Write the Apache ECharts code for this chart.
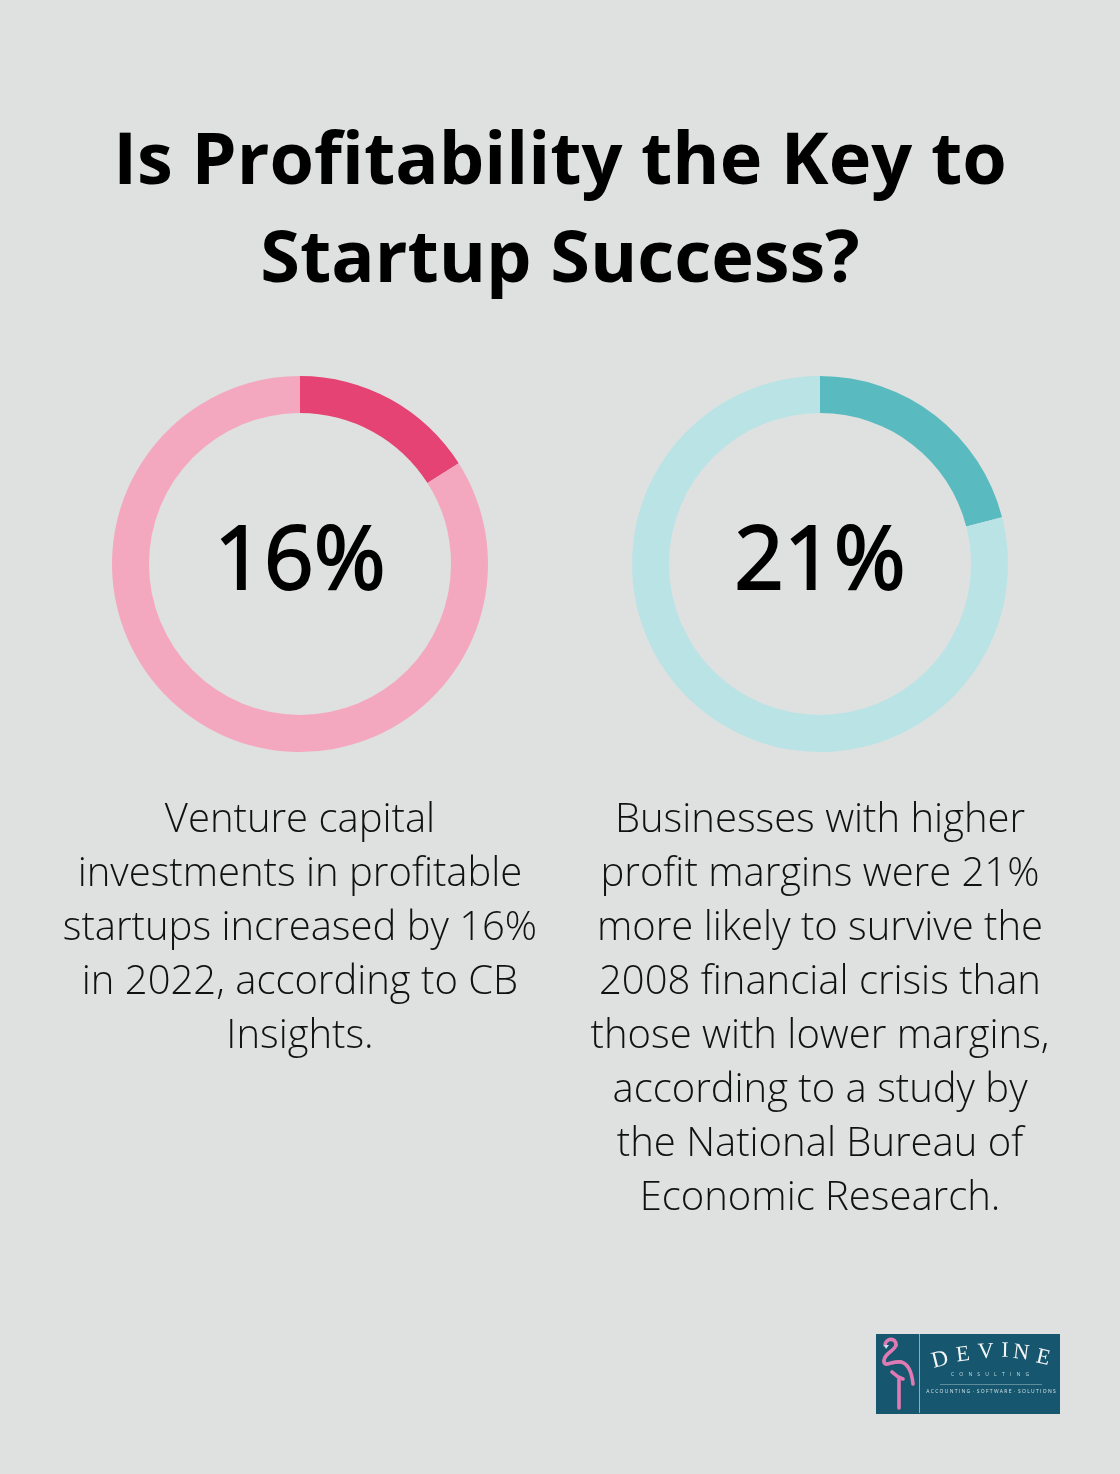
<!DOCTYPE html>
<html><head><meta charset="utf-8">
<style>html,body{margin:0;padding:0;background:#dfe1e0}#c{width:1120px;height:1474px}</style>
<script src="https://cdn.jsdelivr.net/npm/echarts@6/dist/echarts.min.js"></script>
</head><body><div id="c"></div>
<script>
const titleLines = ["Is Profitability the Key to", "Startup Success?"];
const percents = [16, 21];
const leftLines = ["Venture capital", "investments in profitable", "startups increased by 16%", "in 2022, according to CB", "Insights."];
const rightLines = ["Businesses with higher", "profit margins were 21%", "more likely to survive the", "2008 financial crisis than", "those with lower margins,", "according to a study by", "the National Bureau of", "Economic Research."];
const ringColors = [["#e64375", "#f4a8c0"], ["#59bbc0", "#b9e3e5"]];
const centersX = [300, 820];
const FF = '"Open Sans"';
const chart = echarts.init(document.getElementById('c'), null, {renderer:'canvas'});
const txt = (s,x,y,size,weight,color) => ({type:'text',x,y,silent:true,style:{text:s,x:0,y:0,align:'center',verticalAlign:'middle',font:`${weight} ${size}px ${FF}`,fill:color||'#000'}});
const graphics = [];
titleLines.forEach((s,i)=>graphics.push(txt(s,560,163+i*98,72,700)));
leftLines.forEach((s,i)=>graphics.push(txt(s,300,821+i*54,40,300,'#111')));
rightLines.forEach((s,i)=>graphics.push(txt(s,820,821+i*54,40,300,'#111')));
percents.forEach((p,i)=>{const t=txt(p+'%',centersX[i],564,87,400);t.style.stroke='#000';t.style.lineWidth=2;graphics.push(t);});
// logo
const LX=876, LY=1334;
graphics.push({type:'rect',silent:true,shape:{x:LX,y:LY,width:184,height:80},style:{fill:'#16566e'}});
graphics.push({type:'line',silent:true,shape:{x1:LX+43.5,y1:LY,x2:LX+43.5,y2:LY+79},style:{stroke:'#a9c6cf',lineWidth:0.8}});
const logoStroke={stroke:'#e07ab4',lineWidth:3.6,fill:null,lineCap:'round'};
const curve=(a,b,c,d,e,f,g,h)=>graphics.push({type:'bezierCurve',silent:true,shape:{x1:LX+a,y1:LY+b,cpx1:LX+c,cpy1:LY+d,cpx2:LX+e,cpy2:LY+f,x2:LX+g,y2:LY+h},style:logoStroke});
curve(9,11,10,4,20,3,20,11);
curve(20,11,19,17,8,19,8,27);
curve(8,27,8,34,15,27,25,28);
curve(25,28,33,30,36,40,37,50);
curve(16,38,20,42,24,44,27,45);
graphics.push({type:'line',silent:true,shape:{x1:LX+23,y1:LY+44,x2:LX+23,y2:LY+74},style:logoStroke});
graphics.push({type:'polygon',silent:true,shape:{points:[[LX+8,LY+11],[LX+13,LY+11],[LX+10,LY+15]]},style:{fill:'#bfe3ea'}});
const brand=[['D',64,26,-14,23],['E',87,21,-7,22],['V',110,18,-3,22],['I',129,17,1,22],['N',145,19,7,22],['E',167,24,13,22]];
brand.forEach(([c,x,y,r,s])=>graphics.push({type:'text',silent:true,x:LX+x,y:LY+y,rotation:-r*Math.PI/180,style:{text:c,x:0,y:0,align:'center',verticalAlign:'middle',font:`400 ${s}px "Liberation Serif"`,fill:'#f2f6f7'}}));
graphics.push({type:'text',silent:true,x:LX+114,y:LY+41,style:{text:'C    O    N    S    U    L    T    I    N    G',x:0,y:0,align:'center',verticalAlign:'middle',font:`400 5px ${FF}`,fill:'#c9dde2'}});
graphics.push({type:'line',silent:true,shape:{x1:LX+64,y1:LY+50.5,x2:LX+166,y2:LY+50.5},style:{stroke:'#8fb2bd',lineWidth:0.6}});
graphics.push({type:'text',silent:true,x:LX+115,y:LY+58,style:{text:'A C C O U N T I N G  ·  S O F T W A R E  ·  S O L U T I O N S',x:0,y:0,align:'center',verticalAlign:'middle',font:`400 5px ${FF}`,fill:'#d5e5e9'}});
chart.setOption({
  animation:false,
  backgroundColor:'#dfe1e0',
  graphic:{elements:graphics},
  series: percents.map((p,i)=>({
    type:'pie',silent:true,center:[centersX[i],564],radius:[151,188],startAngle:90,clockwise:true,
    label:{show:false},labelLine:{show:false},
    data:[{value:p,itemStyle:{color:ringColors[i][0]}},{value:100-p,itemStyle:{color:ringColors[i][1]}}]
  }))
});
</script></body></html>
